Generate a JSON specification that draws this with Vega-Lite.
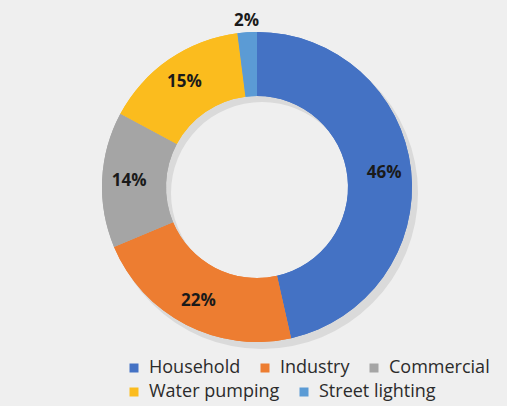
{
  "$schema": "https://vega.github.io/schema/vega-lite/v6.json",
  "width": 500,
  "height": 374,
  "autosize": {"type": "pad"},
  "padding": {"left": 7, "top": 0, "right": 0, "bottom": 6},
  "background": "#efefef",
  "config": {
    "view": {"stroke": null},
    "legend": {
      "title": null,
      "orient": "none",
      "direction": "horizontal",
      "padding": 0,
      "symbolType": "square",
      "symbolSize": 81,
      "symbolStrokeWidth": 0,
      "labelFont": "Open Sans",
      "labelFontSize": 18,
      "labelColor": "#2b2b2b",
      "labelOffset": 6,
      "labelLimit": 300,
      "columnPadding": 15
    }
  },
  "data": {
    "values": [
      {"sector": "Household", "pct": 46, "rank": 1},
      {"sector": "Industry", "pct": 22, "rank": 2},
      {"sector": "Commercial", "pct": 14, "rank": 3},
      {"sector": "Water pumping", "pct": 15, "rank": 4},
      {"sector": "Street lighting", "pct": 2, "rank": 5}
    ]
  },
  "transform": [{"calculate": "datum.pct + '%'", "as": "pctLabel"}],
  "resolve": {"scale": {"color": "independent"}, "legend": {"color": "independent"}},
  "layer": [
    {
      "data": {"values": [{"ring": "shadow"}]},
      "mark": {
        "type": "arc",
        "theta": 0,
        "theta2": 6.2832,
        "outerRadius": 156,
        "innerRadius": 91,
        "fill": "#dadada",
        "xOffset": 5,
        "yOffset": 6
      },
      "encoding": {}
    },
    {
      "mark": {"type": "arc", "outerRadius": 155, "innerRadius": 91},
      "encoding": {
        "theta": {"field": "pct", "type": "quantitative", "stack": true},
        "order": {"field": "rank", "type": "quantitative"},
        "color": {
          "field": "sector",
          "type": "nominal",
          "scale": {
            "domain": ["Household", "Industry", "Commercial", "Water pumping", "Street lighting"],
            "range": ["#4472c4", "#ed7d31", "#a5a5a5", "#fbbc1e", "#5b9bd5"]
          },
          "legend": {
            "values": ["Household", "Industry", "Commercial"],
            "legendX": 118,
            "legendY": 359
          }
        }
      }
    },
    {
      "mark": {"type": "arc", "outerRadius": 155, "innerRadius": 91},
      "encoding": {
        "theta": {"field": "pct", "type": "quantitative", "stack": true},
        "order": {"field": "rank", "type": "quantitative"},
        "color": {
          "field": "sector",
          "type": "nominal",
          "scale": {
            "domain": ["Household", "Industry", "Commercial", "Water pumping", "Street lighting"],
            "range": ["#4472c4", "#ed7d31", "#a5a5a5", "#fbbc1e", "#5b9bd5"]
          },
          "legend": {
            "values": ["Water pumping", "Street lighting"],
            "legendX": 118,
            "legendY": 383
          }
        }
      }
    },
    {
      "mark": {
        "type": "text",
        "radius": 128,
        "font": "Open Sans",
        "fontWeight": "bold",
        "fontSize": 17,
        "color": "#1a1a1a"
      },
      "encoding": {
        "theta": {"field": "pct", "type": "quantitative", "stack": true},
        "order": {"field": "rank", "type": "quantitative"},
        "text": {
          "condition": {"test": "datum.pct < 5", "value": ""},
          "field": "pctLabel",
          "type": "nominal"
        }
      }
    },
    {
      "mark": {
        "type": "text",
        "radius": 166,
        "font": "Open Sans",
        "fontWeight": "bold",
        "fontSize": 17,
        "color": "#1a1a1a"
      },
      "encoding": {
        "theta": {"field": "pct", "type": "quantitative", "stack": true},
        "order": {"field": "rank", "type": "quantitative"},
        "text": {
          "condition": {"test": "datum.pct >= 5", "value": ""},
          "field": "pctLabel",
          "type": "nominal"
        }
      }
    }
  ]
}
